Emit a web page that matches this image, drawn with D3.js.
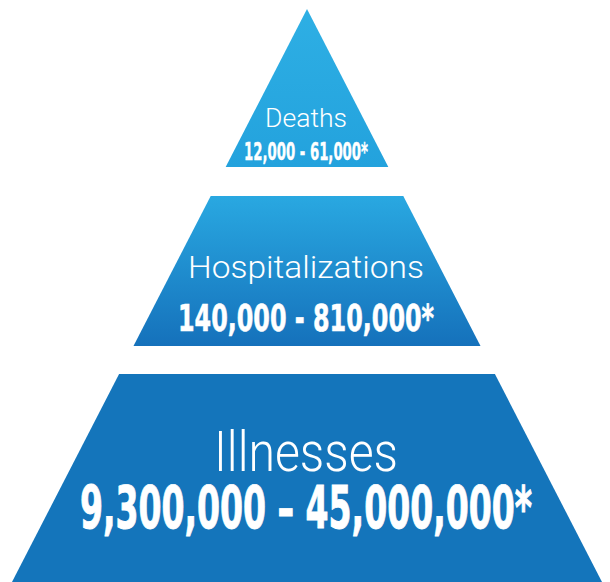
<!DOCTYPE html>
<html>
<head>
<meta charset="utf-8">
<script src="https://cdn.jsdelivr.net/npm/d3@7"></script>
<style>
  html, body { margin: 0; padding: 0; background: #ffffff; }
  svg { display: block; }
</style>
</head>
<body>
<svg id="chart" width="610" height="582"></svg>
<script>
// ---- data ----
const tiers = ["Deaths", "Hospitalizations", "Illnesses"];
const lowValues = [12000, 140000, 9300000];
const highValues = [61000, 810000, 45000000];
const separators = [" - ", " - ", " \u2013 "];

// ---- layout ----
const W = 610, H = 582;
const cx = 307;
const apexY = 9;
// tier vertical extents as fractions of the pyramid depth
const tierTopFrac = [0, 0.3264, 0.6370];
const tierBotFrac = [0.2757, 0.5882, 1.05];

const svg = d3.select("#chart");
const depth = d3.scaleLinear().domain([0, 1]).range([apexY, H]);
const halfW = d3.scaleLinear().domain([apexY, H]).range([0, 295]);

const gradStops = [
  [["0%", "#2eafe4"], ["100%", "#23a2dd"]],
  [["0%", "#29a8e1"], ["100%", "#1571bb"]],
  [["0%", "#1475bb"], ["100%", "#1475bb"]]
];
const defs = svg.append("defs");
tiers.forEach((t, i) => {
  const g = defs.append("linearGradient")
    .attr("id", "g" + i)
    .attr("gradientUnits", "userSpaceOnUse")
    .attr("x1", 0).attr("x2", 0)
    .attr("y1", depth(tierTopFrac[i])).attr("y2", depth(Math.min(tierBotFrac[i], 1)));
  gradStops[i].forEach(s => g.append("stop").attr("offset", s[0]).attr("stop-color", s[1]));
});

const fmt = d3.format(",");
const data = tiers.map((t, i) => ({
  name: t,
  label: fmt(lowValues[i]) + separators[i] + fmt(highValues[i]) + "*",
  y0: depth(tierTopFrac[i]),
  y1: depth(tierBotFrac[i]),
  i
}));

svg.selectAll("path.tier")
  .data(data)
  .join("path")
  .attr("class", "tier")
  .attr("fill", d => `url(#g${d.i})`)
  .attr("d", d => {
    const a = halfW(d.y0), b = halfW(d.y1);
    return d3.line()([[cx - a, d.y0], [cx + a, d.y0], [cx + b, d.y1], [cx - b, d.y1]]) + "Z";
  });

// text styling per tier
const nameSize = [25, 31, 56];
const nameBase = [127, 278, 471];
const nameWidth = [82, 236, 184];
const numSize = [25, 38, 58];
const numBase = [160, 331, 528];
const numWidth = [124, 256, 452];

const lightFont = "'Helvetica Neue', Roboto, 'Open Sans', Lato, 'Liberation Sans', sans-serif";
const boldFont = "'Liberation Sans Narrow', 'DejaVu Sans Condensed', Roboto, 'Liberation Sans', sans-serif";

svg.selectAll("text.name")
  .data(data)
  .join("text")
  .attr("class", "name")
  .attr("x", cx - 1)
  .attr("y", d => nameBase[d.i])
  .attr("text-anchor", "middle")
  .attr("fill", "#ffffff")
  .attr("font-family", lightFont)
  .attr("font-weight", 300)
  .attr("font-size", d => nameSize[d.i])
  .attr("textLength", d => nameWidth[d.i])
  .attr("lengthAdjust", "spacingAndGlyphs")
  .text(d => d.name);

svg.selectAll("text.num")
  .data(data)
  .join("text")
  .attr("class", "num")
  .attr("x", cx - 1)
  .attr("y", d => numBase[d.i])
  .attr("text-anchor", "middle")
  .attr("fill", "#ffffff")
  .attr("stroke", "#ffffff")
  .attr("stroke-width", d => [0.4, 0.6, 0.9][d.i])
  .attr("font-family", boldFont)
  .attr("font-weight", 700)
  .attr("font-size", d => numSize[d.i])
  .attr("textLength", d => numWidth[d.i])
  .attr("lengthAdjust", "spacingAndGlyphs")
  .text(d => d.label);
</script>
</body>
</html>
